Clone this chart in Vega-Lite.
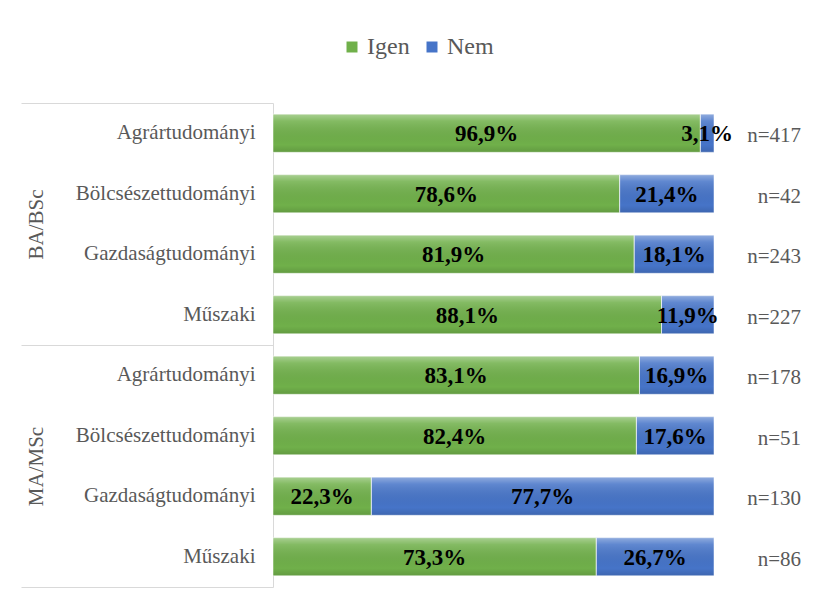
{
  "$schema": "https://vega.github.io/schema/vega-lite/v6.json",
  "width": 441,
  "height": 484,
  "autosize": {"type": "none"},
  "padding": {"left": 273, "top": 103, "right": 99, "bottom": 28},
  "background": "white",
  "config": {
    "view": {"stroke": null},
    "locale": {"number": {"decimal": ",", "thousands": " ", "grouping": [3], "currency": ["", ""]}},
    "font": "Liberation Serif, Times New Roman, serif",
    "legend": {"labelFont": "Liberation Serif, Times New Roman, serif", "labelFontSize": 24, "labelColor": "#595959"}
  },
  "data": {
    "values": [
      {"g": "BA/BSc", "key": "BA/BSc|Agrártudományi", "s": "Igen", "v": 0.969, "n": "n=417"},
      {"g": "BA/BSc", "key": "BA/BSc|Agrártudományi", "s": "Nem", "v": 0.031, "n": "n=417"},
      {"g": "BA/BSc", "key": "BA/BSc|Bölcsészettudományi", "s": "Igen", "v": 0.786, "n": "n=42"},
      {"g": "BA/BSc", "key": "BA/BSc|Bölcsészettudományi", "s": "Nem", "v": 0.214, "n": "n=42"},
      {"g": "BA/BSc", "key": "BA/BSc|Gazdaságtudományi", "s": "Igen", "v": 0.819, "n": "n=243"},
      {"g": "BA/BSc", "key": "BA/BSc|Gazdaságtudományi", "s": "Nem", "v": 0.181, "n": "n=243"},
      {"g": "BA/BSc", "key": "BA/BSc|Műszaki", "s": "Igen", "v": 0.881, "n": "n=227"},
      {"g": "BA/BSc", "key": "BA/BSc|Műszaki", "s": "Nem", "v": 0.119, "n": "n=227"},
      {"g": "MA/MSc", "key": "MA/MSc|Agrártudományi", "s": "Igen", "v": 0.831, "n": "n=178"},
      {"g": "MA/MSc", "key": "MA/MSc|Agrártudományi", "s": "Nem", "v": 0.169, "n": "n=178"},
      {"g": "MA/MSc", "key": "MA/MSc|Bölcsészettudományi", "s": "Igen", "v": 0.824, "n": "n=51"},
      {"g": "MA/MSc", "key": "MA/MSc|Bölcsészettudományi", "s": "Nem", "v": 0.176, "n": "n=51"},
      {"g": "MA/MSc", "key": "MA/MSc|Gazdaságtudományi", "s": "Igen", "v": 0.223, "n": "n=130"},
      {"g": "MA/MSc", "key": "MA/MSc|Gazdaságtudományi", "s": "Nem", "v": 0.777, "n": "n=130"},
      {"g": "MA/MSc", "key": "MA/MSc|Műszaki", "s": "Igen", "v": 0.733, "n": "n=86"},
      {"g": "MA/MSc", "key": "MA/MSc|Műszaki", "s": "Nem", "v": 0.267, "n": "n=86"}
    ]
  },
  "layer": [
    {
      "encoding": {
        "y": {
          "field": "key", "type": "nominal", "sort": null,
          "scale": {"paddingInner": 0, "paddingOuter": 0},
          "axis": {
            "orient": "left", "title": null, "ticks": false,
            "domain": true, "domainColor": "#D9D9D9", "domainWidth": 1,
            "labelExpr": "split(datum.label, '|')[1]",
            "labelFont": "Liberation Serif, Times New Roman, serif", "labelFontSize": 21,
            "labelColor": "#595959", "labelPadding": 18, "labelLimit": 300
          }
        }
      },
      "layer": [
        {
          "mark": {"type": "bar", "height": {"band": 0.63}},
          "encoding": {
            "x": {"field": "v", "type": "quantitative", "stack": "zero",
                  "scale": {"domain": [0, 1], "nice": false, "zero": true}, "axis": null},
            "color": {
              "field": "s", "type": "nominal",
              "scale": {"domain": ["Igen", "Nem"], "range": ["#70B04A", "#4674C8"]},
              "legend": {
                "orient": "none", "legendX": 67, "legendY": -68,
                "direction": "horizontal", "title": null,
                "symbolType": "square", "symbolSize": 121, "symbolStrokeWidth": 0,
                "labelFont": "Liberation Serif, Times New Roman, serif", "labelFontSize": 24,
                "labelColor": "#595959", "columnPadding": 10, "labelOffset": 3
              }
            }
          }
        },
        {
          "mark": {
            "type": "bar", "height": {"band": 0.63},
            "stroke": "rgba(255,255,255,0.5)", "strokeWidth": 1,
            "fill": {
              "gradient": "linear", "x1": 0, "y1": 0, "x2": 0, "y2": 1,
              "stops": [
                {"offset": 0, "color": "rgba(255,255,255,0.4)"},
                {"offset": 0.18, "color": "rgba(255,255,255,0.14)"},
                {"offset": 0.8, "color": "rgba(0,0,0,0)"},
                {"offset": 1, "color": "rgba(0,0,0,0.12)"}
              ]
            }
          },
          "encoding": {
            "x": {"field": "v", "type": "quantitative", "stack": "zero"},
            "detail": {"field": "s"},
            "order": {"field": "s"}
          }
        },
        {
          "mark": {"type": "text", "font": "Liberation Serif, Times New Roman, serif", "fontWeight": "bold",
                   "fontSize": 23, "color": "black", "baseline": "middle", "align": "center", "dy": 1},
          "encoding": {
            "x": {"field": "v", "type": "quantitative", "stack": "zero", "bandPosition": 0.5},
            "detail": {"field": "s"},
            "order": {"field": "s"},
            "text": {"field": "v", "type": "quantitative", "format": ".1%"}
          }
        },
        {
          "transform": [{"filter": "datum.s === 'Igen'"}],
          "mark": {"type": "text", "font": "Liberation Serif, Times New Roman, serif", "fontSize": 21,
                   "color": "#595959", "baseline": "middle", "align": "right", "dx": 87, "dy": 3},
          "encoding": {
            "x": {"datum": 1, "type": "quantitative"},
            "text": {"field": "n"}
          }
        }
      ]
    },
    {
      "transform": [{"filter": "datum.s === 'Igen'"}],
      "mark": {"type": "point", "opacity": 0},
      "encoding": {
        "y": {
          "field": "g", "type": "nominal", "sort": null,
          "scale": {"paddingInner": 0, "paddingOuter": 0},
          "axis": {
            "orient": "left", "title": null, "domain": false,
            "ticks": true, "tickBand": "extent", "tickSize": 252,
            "tickColor": "#D9D9D9", "tickWidth": 1,
            "labelAngle": 270, "labelAlign": "center", "labelBaseline": "middle",
            "labelPadding": -15,
            "labelFont": "Liberation Serif, Times New Roman, serif", "labelFontSize": 21, "labelColor": "#595959"
          }
        }
      }
    }
  ],
  "resolve": {"scale": {"y": "independent"}, "axis": {"y": "independent"}}
}
